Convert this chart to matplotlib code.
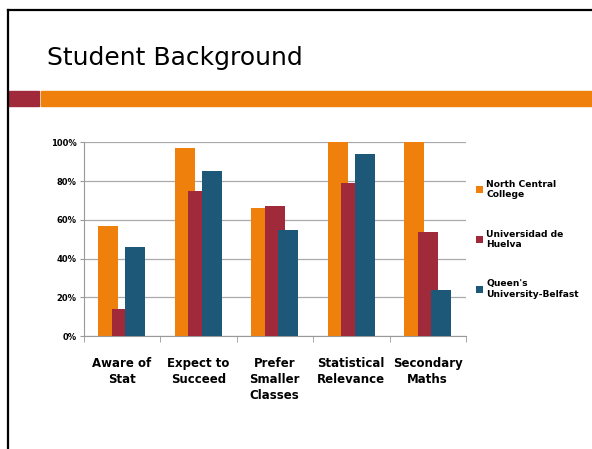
import numpy as np
import matplotlib
matplotlib.use("Agg")
import matplotlib.pyplot as plt
from matplotlib.patches import Rectangle
from matplotlib.lines import Line2D

categories = ["Aware of\nStat", "Expect to\nSucceed", "Prefer\nSmaller\nClasses",
              "Statistical\nRelevance", "Secondary\nMaths"]
series_names = ["North Central\nCollege", "Universidad de\nHuelva", "Queen's\nUniversity-Belfast"]
north_central = [57, 97, 66, 100, 100]
huelva = [14, 75, 67, 79, 54]
belfast = [46, 85, 55, 94, 24]
colors = ["#EF800B", "#A0293A", "#1D5879"]

W, H = 592, 449
fig = plt.figure(figsize=(W / 100, H / 100), dpi=100)


def px(x, y, w, h):
    return [x / W, 1 - (y + h) / H, w / W, h / H]


# slide decoration
fig.add_artist(Line2D([8 / W, 1], [1 - 10 / H, 1 - 10 / H], color="black", lw=1.6))
fig.add_artist(Line2D([8 / W, 8 / W], [0, 1 - 10 / H], color="black", lw=1.6))
fig.add_artist(Rectangle((8 / W, 1 - 106 / H), 31 / W, 15 / H, color="#A0293A",
                         transform=fig.transFigure))
fig.add_artist(Rectangle((41 / W, 1 - 106 / H), 1 - 41 / W, 15 / H, color="#EF800B",
                         transform=fig.transFigure))
fig.text(47 / W, 1 - 58 / H, "Student Background", fontsize=18, va="center", ha="left")

ax = fig.add_axes(px(83.5, 142.3, 382.5, 194))
x = np.arange(len(categories))
width = 0.26
step = 0.176
for i, vals in enumerate([north_central, huelva, belfast]):
    ax.bar(x + (i - 1) * step, vals, width, color=colors[i], label=series_names[i], zorder=2 + i)

ax.set_xlim(-0.5, len(categories) - 0.5)
ax.set_ylim(0, 100)
ax.set_yticks(range(0, 101, 20))
ax.set_yticklabels([f"{v}%" for v in range(0, 101, 20)], fontsize=6, fontweight="bold")
ax.set_xticks(x)
ax.set_xticklabels(categories, fontsize=8.5, fontweight="bold", linespacing=1.3)
ax.set_xticks(np.arange(-0.5, len(categories)), minor=True)
ax.tick_params(axis="x", which="major", length=0, pad=15)
ax.tick_params(axis="x", which="minor", length=4, color="#999999")
ax.tick_params(axis="y", length=3, color="#999999", pad=2)
ax.grid(axis="y", color="#AAAAAA", lw=0.9, zorder=0)
ax.set_axisbelow(True)
for s in ["top", "right"]:
    ax.spines[s].set_visible(False)
for s in ["left", "bottom"]:
    ax.spines[s].set_color("#999999")

leg = ax.legend(loc="center left", bbox_to_anchor=(1.005, 0.5), frameon=False,
                prop={"size": 6.6, "weight": "bold"}, handlelength=0.8, handleheight=0.8,
                handletextpad=0.3, labelspacing=3.3)

fig.savefig("out.png", dpi=100)
